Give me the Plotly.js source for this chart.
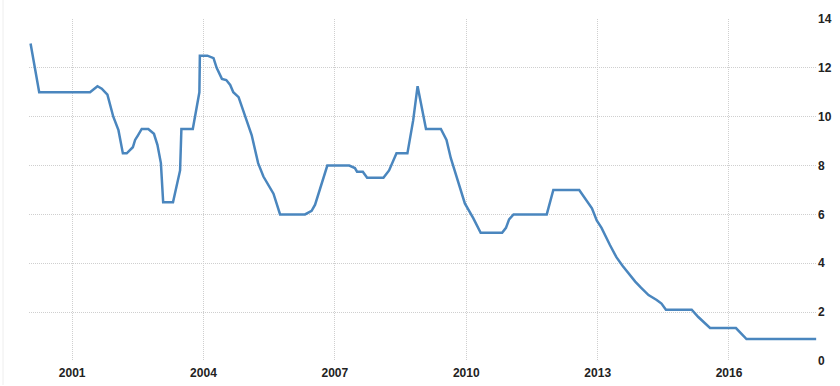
<!DOCTYPE html>
<html>
<head>
<meta charset="utf-8">
<script src="https://cdn.plot.ly/plotly-3.0.1.min.js"></script>
<style>html,body{margin:0;padding:0;background:#fff;}#chart{width:840px;height:386px;}</style>
</head>
<body>
<div id="chart"></div>
<script>
const dates = [
"2000-01-20","2000-04-01","2001-05-30","2001-07-31","2001-09-05","2001-10-22","2001-12-10",
"2002-01-22","2002-02-28","2002-04-01","2002-05-22","2002-06-10","2002-07-05","2002-08-04","2002-09-28","2002-11-14","2002-12-13",
"2003-01-11","2003-01-30","2003-04-22","2003-06-20","2003-07-01","2003-10-04","2003-11-28","2003-12-02",
"2004-02-03","2004-03-25","2004-04-20","2004-06-03","2004-07-09","2004-08-11","2004-09-06","2004-10-20","2004-12-28",
"2005-02-06","2005-04-01","2005-05-15","2005-08-07","2005-10-01",
"2006-04-27","2006-06-21","2006-07-20","2006-08-29","2006-10-30",
"2007-05-01","2007-06-17","2007-07-05","2007-08-22","2007-09-27",
"2008-02-10","2008-03-28","2008-05-29","2008-08-28","2008-10-15","2008-11-21",
"2009-01-30","2009-06-03","2009-07-20","2009-08-25","2009-09-24","2009-10-27","2009-12-06","2009-12-20",
"2010-02-28","2010-05-01","2010-10-27","2010-11-28","2010-12-24",
"2011-01-30","2011-11-03","2011-12-28",
"2012-07-31","2012-11-14","2012-12-24",
"2013-02-02","2013-04-13","2013-06-06","2013-07-27","2013-09-27","2013-11-10","2013-12-28",
"2014-03-01","2014-05-08","2014-06-17","2014-07-24",
"2015-02-24","2015-04-20","2015-07-27",
"2016-02-28","2016-05-26","2017-12-28"
];
const rates = [
13.0,11.0,11.0,11.25,11.15,10.9,10.0,
9.45,8.5,8.5,8.75,9.05,9.25,9.5,9.5,9.3,8.85,
8.1,6.5,6.5,7.8,9.5,9.5,11.0,12.5,
12.5,12.4,12.0,11.55,11.5,11.3,11.0,10.8,9.85,
9.25,8.1,7.55,6.85,6.0,
6.0,6.15,6.4,7.0,8.0,
8.0,7.9,7.75,7.75,7.5,
7.5,7.8,8.5,8.5,9.85,11.25,
9.5,9.5,9.05,8.3,7.8,7.25,6.65,6.45,
5.85,5.25,5.25,5.45,5.8,
6.0,6.0,7.0,
7.0,6.25,5.75,
5.45,4.75,4.25,3.9,3.5,3.25,3.0,
2.7,2.5,2.35,2.1,
2.1,1.8,1.35,
1.35,0.9,0.9
];
const xTickVals = ["2001-01-01","2004-01-01","2007-01-01","2010-01-01","2013-01-01","2016-01-01"];
const xTickText = ["2001","2004","2007","2010","2013","2016"];
const yTickVals = [0,2,4,6,8,10,12,14];

const trace = {
  x: dates, y: rates, type: "scatter", mode: "lines",
  line: {color: "#4a86be", width: 2.5},
  hoverinfo: "skip"
};
const tf = {family: "Liberation Sans, Arial, sans-serif", size: 12, color: "#222", weight: "bold"};
const layout = {
  width: 840, height: 386,
  margin: {l: 29, r: 23, t: 19, b: 25},
  paper_bgcolor: "#fff", plot_bgcolor: "#fff",
  showlegend: false,
  font: {family: "Liberation Sans, Arial, sans-serif", size: 12, color: "#222"},
  xaxis: {
    type: "date", range: ["2000-01-07","2018-01-04"],
    tickmode: "array", tickvals: xTickVals, ticktext: xTickText,
    showgrid: true, gridcolor: "#cfcfcf", griddash: "1px,1px", gridwidth: 1,
    zeroline: false, showline: false, ticks: "", ticklabelstandoff: 3,
    tickfont: tf
  },
  yaxis: {
    side: "right", range: [0, 14],
    tickmode: "array", tickvals: yTickVals,
    showgrid: true, gridcolor: "#cfcfcf", griddash: "1px,1px", gridwidth: 1,
    zeroline: false, showline: false, ticks: "",
    tickfont: tf
  },
  shapes: [{type: "line", xref: "paper", yref: "paper", x0: -26/788, x1: -26/788, y0: -0.07, y1: 1.06,
    line: {color: "#eeeeee", width: 1}}]
};
Plotly.newPlot("chart", [trace], layout, {displayModeBar: false, staticPlot: true});
</script>
</body>
</html>
